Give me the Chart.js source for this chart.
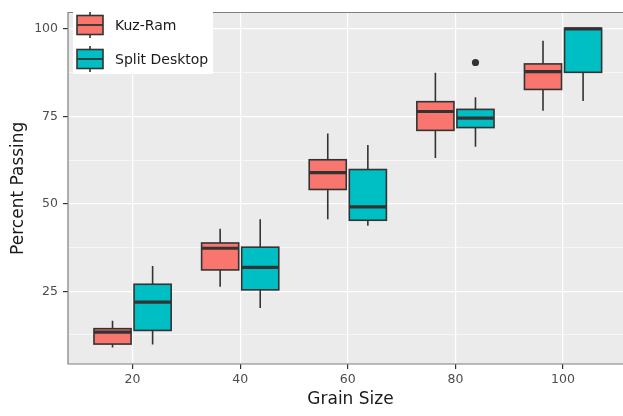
<!DOCTYPE html>
<html>
<head>
<meta charset="utf-8">
<script src="https://cdn.jsdelivr.net/npm/chart.js@4"></script>
<style>
html,body{margin:0;padding:0;background:#fff;overflow:hidden;}
#wrap{width:623px;height:416px;position:relative;overflow:hidden;}
canvas{display:block;}
</style>
</head>
<body>
<div id="wrap"><canvas id="c" width="633" height="416"></canvas></div>
<script>
const grainSizes = [20, 40, 60, 80, 100];
const seriesNames = ['Kuz-Ram', 'Split Desktop'];

const kuzMin = [8.9, 26.3, 45.6, 63.1, 76.6];
const kuzQ1  = [9.9, 31.1, 54.1, 71.0, 82.7];
const kuzMed = [13.3, 37.3, 58.9, 76.4, 87.8];
const kuzQ3  = [14.3, 38.8, 62.6, 79.2, 90.0];
const kuzMax = [16.6, 42.9, 70.1, 87.5, 96.6];
const kuzOut = [[], [], [], [], []];

const splitMin = [9.8, 20.2, 43.7, 66.3, 79.4];
const splitQ1  = [13.8, 25.4, 45.3, 71.8, 87.6];
const splitMed = [21.9, 31.8, 49.1, 74.5, 100.0];
const splitQ3  = [27.0, 37.6, 59.8, 77.0, 100.2];
const splitMax = [32.2, 45.6, 66.8, 80.5, 100.2];
const splitOut = [[], [], [], [90.4], []];

const yMajorTicks = [25, 50, 75, 100];
const yMinorTicks = [12.5, 37.5, 62.5, 87.5];
const xTicks = [20, 40, 60, 80, 100];

const fillColors = ['#F8766D', '#00BFC4'];
const lineCol = '#333333';

const stats = [
  {min: kuzMin, q1: kuzQ1, med: kuzMed, q3: kuzQ3, max: kuzMax, out: kuzOut},
  {min: splitMin, q1: splitQ1, med: splitMed, q3: splitQ3, max: splitMax, out: splitOut}
];

const datasets = stats.map((s, di) => ({
  label: seriesNames[di],
  data: grainSizes.map((g, i) => ({x: g, y: [s.q1[i], s.q3[i]]})),
  backgroundColor: fillColors[di],
  borderColor: lineCol,
  borderWidth: 0,
  borderSkipped: false,
  categoryPercentage: 0.745,
  barPercentage: 0.925
}));

const FONT = '"DejaVu Sans", sans-serif';

const boxPlugin = {
  id: 'boxPlugin',
  beforeDraw(chart) {
    const {ctx, chartArea: a} = chart;
    ctx.save();
    ctx.fillStyle = '#EBEBEB';
    ctx.fillRect(a.left, a.top, a.right - a.left, a.bottom - a.top);
    ctx.restore();
  },
  afterDatasetsDraw(chart) {
    const ctx = chart.ctx;
    const ys = chart.scales.y;
    ctx.save();
    ctx.beginPath();
    ctx.rect(chart.chartArea.left, chart.chartArea.top, chart.chartArea.right - chart.chartArea.left, chart.chartArea.bottom - chart.chartArea.top);
    ctx.clip();
    stats.forEach((s, di) => {
      const meta = chart.getDatasetMeta(di);
      meta.data.forEach((bar, i) => {
        const cx = bar.x;
        const w = bar.width;
        const l = cx - w / 2, r = cx + w / 2;
        const yq1 = ys.getPixelForValue(s.q1[i]);
        const yq3 = ys.getPixelForValue(s.q3[i]);
        const ymed = ys.getPixelForValue(s.med[i]);
        const ymin = ys.getPixelForValue(s.min[i]);
        const ymax = ys.getPixelForValue(s.max[i]);
        ctx.strokeStyle = lineCol;
        ctx.lineCap = 'butt';
        ctx.lineWidth = 1.6;
        ctx.beginPath();
        ctx.moveTo(cx, yq3); ctx.lineTo(cx, ymax);
        ctx.moveTo(cx, yq1); ctx.lineTo(cx, ymin);
        ctx.stroke();
        ctx.lineWidth = 1.6;
        ctx.strokeRect(l, yq3, w, yq1 - yq3);
        ctx.lineWidth = 3.2;
        ctx.beginPath();
        ctx.moveTo(l, ymed); ctx.lineTo(r, ymed);
        ctx.stroke();
        ctx.fillStyle = lineCol;
        s.out[i].forEach(v => {
          ctx.beginPath();
          ctx.arc(cx, ys.getPixelForValue(v), 3.6, 0, Math.PI * 2);
          ctx.fill();
        });
      });
    });
    ctx.restore();
  },
  afterDraw(chart) {
    const ctx = chart.ctx;
    const a = chart.chartArea;
    ctx.save();
    ctx.strokeStyle = '#7F7F7F';
    ctx.lineWidth = 1.2;
    ctx.beginPath();
    ctx.moveTo(chart.width + 2, a.top); ctx.lineTo(a.left, a.top);
    ctx.lineTo(a.left, a.bottom); ctx.lineTo(chart.width + 2, a.bottom);
    ctx.stroke();

    const lx = 73, ly = 9, lw = 140, lh = 65;
    ctx.fillStyle = '#FFFFFF';
    ctx.fillRect(lx, ly, lw, lh);
    const keyCy = [25, 59];
    seriesNames.forEach((name, di) => {
      const cy = keyCy[di];
      const kl = 77, kr = 103;
      ctx.strokeStyle = lineCol;
      ctx.lineWidth = 1.6;
      ctx.beginPath();
      ctx.moveTo(90, cy - 13); ctx.lineTo(90, cy + 13);
      ctx.stroke();
      ctx.fillStyle = fillColors[di];
      ctx.fillRect(kl, cy - 9.5, kr - kl, 19);
      ctx.strokeRect(kl, cy - 9.5, kr - kl, 19);
      ctx.lineWidth = 1.8;
      ctx.beginPath();
      ctx.moveTo(kl, cy); ctx.lineTo(kr, cy);
      ctx.stroke();
      ctx.fillStyle = '#1A1A1A';
      ctx.font = '14px ' + FONT;
      ctx.textBaseline = 'middle';
      ctx.textAlign = 'left';
      ctx.fillText(name, 115, cy + 1);
    });
    ctx.restore();
  }
};

new Chart(document.getElementById('c'), {
  type: 'bar',
  data: {datasets},
  plugins: [boxPlugin],
  options: {
    responsive: false,
    animation: false,
    devicePixelRatio: 1,
    layout: {padding: {top: 6, right: 0, left: 0, bottom: 0}},
    plugins: {legend: {display: false}, tooltip: {enabled: false}},
    scales: {
      x: {
        type: 'linear',
        offset: false,
        min: 8.0,
        max: 113.0,
        afterBuildTicks(scale) { scale.ticks = xTicks.map(v => ({value: v})); },
        afterFit(scale) { scale.height = 52; },
        grid: {offset: false, color: '#FFFFFF', lineWidth: 1.2, tickColor: '#333333', tickLength: 5, drawTicks: true},
        border: {display: false},
        ticks: {color: '#4D4D4D', font: {family: FONT, size: 12.5}, padding: 3, maxRotation: 0,
          callback: (v) => String(v)},
        title: {display: true, text: 'Grain Size', color: '#1A1A1A', font: {family: FONT, size: 17}, padding: {top: 0, bottom: 6}}
      },
      y: {
        type: 'linear',
        min: 4.2,
        max: 104.7,
        afterBuildTicks(scale) {
          scale.ticks = [...yMinorTicks, ...yMajorTicks].sort((a, b) => a - b).map(v => ({value: v}));
        },
        afterFit(scale) { scale.width = 68; },
        grid: {
          color: '#FFFFFF',
          lineWidth: (c) => yMajorTicks.includes(c.tick && c.tick.value) ? 1.2 : 0.6,
          tickColor: (c) => yMajorTicks.includes(c.tick && c.tick.value) ? '#333333' : 'rgba(0,0,0,0)',
          tickLength: 5
        },
        border: {display: false},
        ticks: {color: '#4D4D4D', font: {family: FONT, size: 12.5}, padding: 5,
          callback: (v) => yMajorTicks.includes(v) ? String(v) : ''},
        title: {display: true, text: 'Percent Passing', color: '#1A1A1A', font: {family: FONT, size: 17}, padding: {top: 8, bottom: 0}}
      }
    }
  }
});
</script>
</body>
</html>
